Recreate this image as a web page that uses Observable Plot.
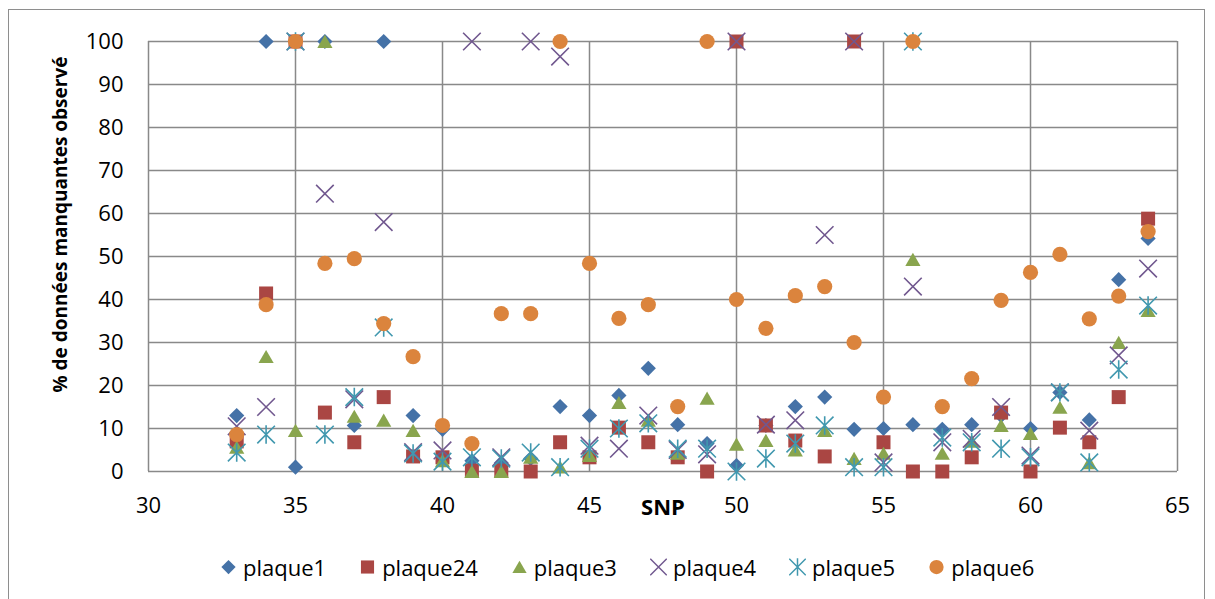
<!DOCTYPE html>
<html><head><meta charset="utf-8">
<script src="https://cdn.jsdelivr.net/npm/d3@7"></script>
<script src="https://cdn.jsdelivr.net/npm/@observablehq/plot@0.6"></script>
<style>
body{margin:0;background:#fff;font-family:"Open Sans",sans-serif;}
#frame{position:absolute;left:8px;top:9px;width:1197px;height:600px;border:1px solid #8e8e8e;box-sizing:border-box;}
#chart{position:absolute;left:0;top:0;}
#legend{position:absolute;left:220px;top:552px;display:flex;align-items:center;gap:33px;font-size:22px;color:#000;line-height:30px;}
#legend .item{display:flex;align-items:center;gap:6px;}
#legend svg{display:block;}
</style></head><body>
<div id="frame"></div><div id="chart"></div><div id="legend"></div>
<script>
const snp = [33,34,35,36,37,38,39,40,41,42,43,44,45,46,47,48,49,50,51,52,53,54,55,56,57,58,59,60,61,62,63,64];
const plaque1  = [13,100,1,100,10.7,100,13,9.8,2.5,2,3,15.1,13,17.7,24,10.9,6.5,1.4,10.7,15.1,17.3,9.8,10,10.9,9.8,10.9,13,10,18.4,12,44.6,54.2];
const plaque24 = [7,41.4,100,13.7,6.8,17.3,3.5,3.3,0.2,0.2,0,6.8,3.3,10.2,6.8,3.3,0,100,10.7,7.2,3.5,100,6.8,0,0,3.3,13.7,0,10.2,6.8,17.3,58.8];
const plaque3  = [5.6,26.7,9.5,100,12.8,11.9,9.5,2.5,0,0,3.3,1,3.7,16,11.9,4.2,17,6.3,7.2,5,9.5,3,4.2,49.3,4.2,7,10.7,8.8,14.9,2,30,37.4];
const plaque4  = [10.5,15,100,64.6,16.8,58,4.5,4.9,100,3.3,100,96.5,6,5.3,13,5,4,100,10.9,11.9,55,100,2.1,43,6.8,7.6,15,3.7,18.4,9.5,27,47.2];
const plaque5  = [4.4,8.6,100,8.6,17.3,33.5,4.2,2.3,3.3,3,4.4,1,5.3,10,11.2,5.3,5.3,0,3,6.5,10.7,1,1,100,7.9,6.8,5.3,3.3,18.4,2.1,23.7,38.6];
const plaque6  = [8.6,38.8,100,48.4,49.5,34.4,26.7,10.7,6.5,36.7,36.7,100,48.4,35.6,38.8,15.1,100,40,33.3,40.9,43,30,17.3,100,15.1,21.6,39.8,46.3,50.5,35.5,40.8,55.8];
const seriesNames = ["plaque1","plaque24","plaque3","plaque4","plaque5","plaque6"];
const seriesColors = ["#4572A7","#AA4643","#89A54E","#71588F","#4198AF","#DB843D"];
const xTicks = [30,35,40,45,50,55,60,65];
const yTicks = [0,10,20,30,40,50,60,70,80,90,100];
const xTitle = "SNP";
const yTitle = "% de données manquantes observé";

const seriesValues = [plaque1, plaque24, plaque3, plaque4, plaque5, plaque6];

// custom marker shapes (size = pi*r^2)
const rad = s => Math.sqrt(s / Math.PI);
const symbols = [
  {draw(c, s){const r = rad(s)*0.95; c.moveTo(0,-r); c.lineTo(r,0); c.lineTo(0,r); c.lineTo(-r,0); c.closePath();}},
  {draw(c, s){const r = rad(s)*0.875; c.rect(-r,-r,2*r,2*r);}},
  {draw(c, s){const r = rad(s); c.moveTo(0,-r*0.85); c.lineTo(r*0.95,r*0.8); c.lineTo(-r*0.95,r*0.8); c.closePath();}},
  {draw(c, s){const r = rad(s)*1.1; c.moveTo(-r,-r); c.lineTo(r,r); c.moveTo(r,-r); c.lineTo(-r,r);}},
  {draw(c, s){const r = rad(s)*1.1; c.moveTo(-r,-r); c.lineTo(r,r); c.moveTo(r,-r); c.lineTo(-r,r); c.moveTo(0,-r*1.05); c.lineTo(0,r*1.05);}},
  {draw(c, s){const r = rad(s)*0.95; c.moveTo(r,0); c.arc(0,0,r,0,2*Math.PI);}}
];
const filled = [true,true,true,false,false,true];

const dotMarks = seriesValues.map((vals, k) => {
  const data = snp.map((x, i) => ({snp: x, value: vals[i], series: seriesNames[k]}));
  return Plot.dot(data, filled[k]
    ? {x: "snp", y: "value", r: 8, symbol: symbols[k], fill: seriesColors[k], stroke: "none"}
    : {x: "snp", y: "value", r: 8, symbol: symbols[k], fill: "none", stroke: seriesColors[k], strokeWidth: 1.6});
});

const chart = Plot.plot({
  width: 1215, height: 545,
  marginLeft: 148, marginRight: 38, marginTop: 41, marginBottom: 74,
  style: {fontFamily: "'Open Sans', sans-serif", fontSize: "22px", color: "#000", background: "transparent", overflow: "visible"},
  x: {domain: [30, 65]},
  y: {domain: [0, 100]},
  marks: [
    Plot.gridX(xTicks, {stroke: "#898989", strokeOpacity: 1, strokeWidth: 1.5}),
    Plot.gridY(yTicks, {stroke: "#898989", strokeOpacity: 1, strokeWidth: 1.5}),
    Plot.axisX({ticks: xTicks, tickSize: 0, tickPadding: 26, label: null, fontSize: 22}),
    Plot.axisY({ticks: yTicks, tickSize: 0, tickPadding: 25, label: null, fontSize: 22}),
    ...dotMarks,
    Plot.text([xTitle], {frameAnchor: "bottom", dy: 43, fontWeight: "bold", fontSize: 22, fill: "#000"}),
    Plot.text([yTitle], {frameAnchor: "left", textAnchor: "middle", dx: -88, dy: -32, rotate: -90, fontWeight: "bold", fontSize: 19, fill: "#000"})
  ]
});
document.getElementById("chart").appendChild(chart);

// legend
const legend = document.getElementById("legend");
seriesNames.forEach((name, k) => {
  const item = document.createElement("div");
  item.className = "item";
  const svg = d3.create("svg").attr("width", 17).attr("height", 18);
  const p = d3.path();
  symbols[k].draw(p, Math.PI * 7.5 * 7.5);
  svg.append("path").attr("transform", "translate(8.5,9)").attr("d", p.toString())
    .attr("fill", filled[k] ? seriesColors[k] : "none")
    .attr("stroke", filled[k] ? "none" : seriesColors[k]).attr("stroke-width", 1.5);
  item.appendChild(svg.node());
  const span = document.createElement("span");
  span.textContent = name;
  item.appendChild(span);
  legend.appendChild(item);
});
</script></body></html>
